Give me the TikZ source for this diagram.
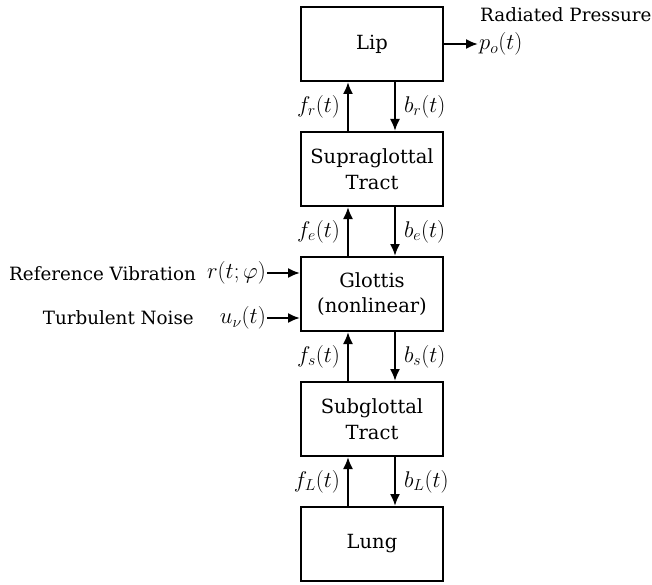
\documentclass[tikz,border=0pt]{standalone}
\usepackage{fix-cm}
\usepackage{fontspec}
\setmainfont{DejaVu Serif}
\usetikzlibrary{arrows.meta}
\begin{document}
\begin{tikzpicture}[x=1pt,y=-1pt,
  block/.style={draw, line width=2pt, minimum width=142pt, minimum height=74pt,
    align=center, inner sep=2pt, font=\fontsize{19.5}{25.5}\selectfont},
  sig/.style={line width=2pt, -{Latex[length=12pt,width=10pt]}},
  mathlbl/.style={inner sep=1pt, font=\fontsize{22.7}{27}\selectfont},
  txtlbl/.style={inner sep=1pt, font=\fontsize{18.3}{25}\selectfont}]
\useasboundingbox (0,0) rectangle (652,585);

% vocal tract chain, from lip down to lung
\node[block] (lip)  at (372,44)    {Lip};
\node[block] (supra) at (372,169)  {Supraglottal\\Tract};
\node[block] (glot) at (372,294)   {Glottis\\(nonlinear)};
\node[block] (sub)  at (372,419)   {Subglottal\\Tract};
\node[block] (lung) at (372,544)   {Lung};

% forward (up) and backward (down) waves between adjacent sections
\foreach \lo/\hi/\sfx in {supra/lip/r, glot/supra/e, sub/glot/s, lung/sub/L}{
  \draw[sig] ([xshift=-24pt]\lo.north) -- ([xshift=-24pt]\hi.south)
    node[pos=0.5, left=6pt, mathlbl] {$f_{\sfx}(t)$};
  \draw[sig] ([xshift=23pt]\hi.south) -- ([xshift=23pt]\lo.north)
    node[pos=0.5, right=7pt, mathlbl] {$b_{\sfx}(t)$};
}

% radiated output
\node[mathlbl, anchor=west] (po) at (478,44) {$p_o(t)$};
\node[txtlbl, anchor=west] (rad) at (479,15) {Radiated Pressure};
\draw[sig] (lip.east) -- (po.west);

% glottal inputs
\node[mathlbl, anchor=east] (r) at (267,273) {$r(t;\varphi)$};
\node[txtlbl, anchor=east] (refv) at (197,274) {Reference Vibration};
\draw[sig] (r.east) -- (glot.west |- r.east);

\node[mathlbl, anchor=east] (u) at (267,318) {$u_{\nu}(t)$};
\node[txtlbl, anchor=east] (turb) at (195,318) {Turbulent Noise};
\draw[sig] (u.east) -- (glot.west |- u.east);
\end{tikzpicture}
\end{document}
